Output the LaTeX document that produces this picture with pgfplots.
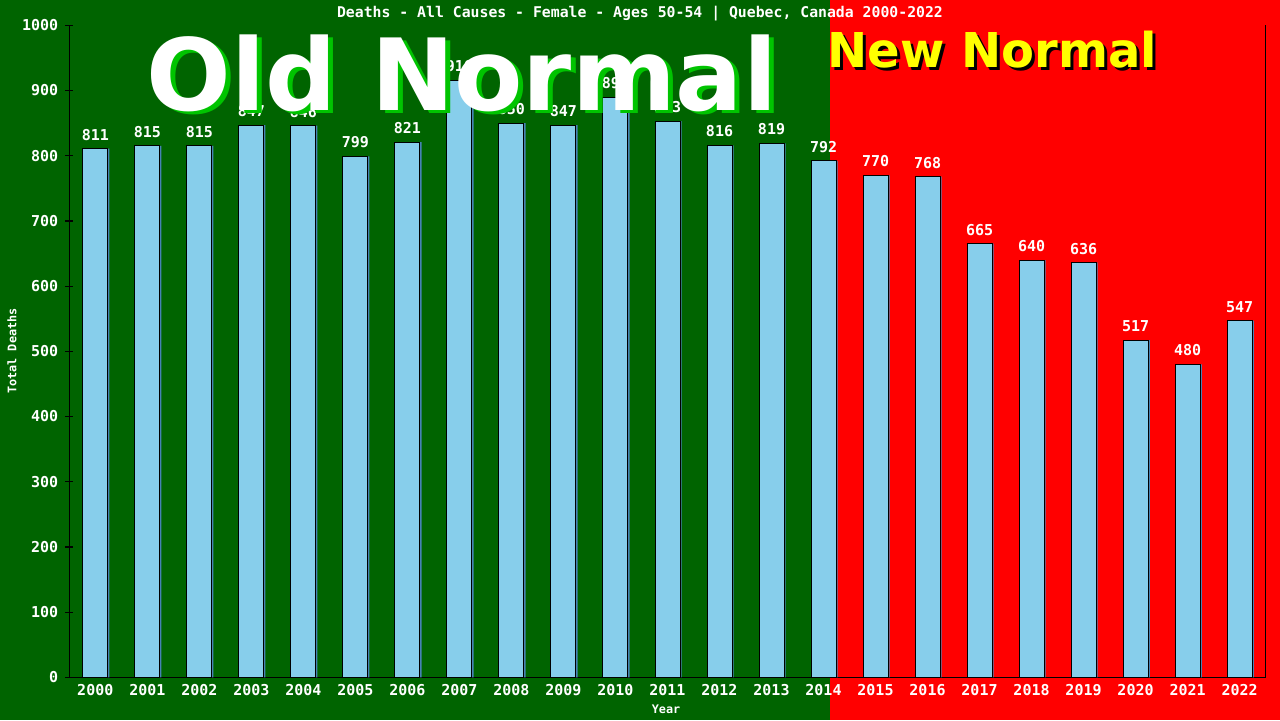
\documentclass[border=0pt]{standalone}
\usepackage{pgfplots}
\pgfplotsset{compat=1.18}
\usepackage{fontspec}
\setmainfont{DejaVu Sans Mono}
\newfontfamily\bigfont{DejaVu Sans}
\definecolor{bggreen}{HTML}{006400}
\definecolor{bgred}{HTML}{FF0000}
\definecolor{shadowgreen}{HTML}{00C400}
\definecolor{barblue}{HTML}{87CEEB}
\definecolor{barshade}{HTML}{4682B4}
\definecolor{newyellow}{HTML}{FFFF00}

\pgfplotstableread{
year deaths
2000 811
2001 815
2002 815
2003 847
2004 846
2005 799
2006 821
2007 916
2008 850
2009 847
2010 890
2011 853
2012 816
2013 819
2014 792
2015 770
2016 768
2017 665
2018 640
2019 636
2020 517
2021 480
2022 547
}\deaths

\begin{document}
\begin{tikzpicture}
% background halves
\fill[bggreen] (0,0) rectangle (415pt,360pt);
\fill[bgred] (415pt,0) rectangle (640pt,360pt);

\begin{axis}[
  at={(34.65pt,21.35pt)}, anchor=south west,
  scale only axis, width=598.2pt, height=326pt,
  xmin=1999.5, xmax=2022.5, ymin=0, ymax=1000,
  axis x line=bottom, axis y line=left,
  axis line style={-, black, line width=0.6pt},
  xtick={2000,...,2022}, ytick={0,100,...,1000},
  xtick style={draw=none},
  ytick style={black, line width=0.6pt},
  tick align=center, major tick length=4pt,
  /pgf/number format/1000 sep={},
  /pgf/number format/assume math mode=true,
  ticklabel style={text=white, font=\bfseries\fontsize{7.5}{8}\selectfont},
  xticklabel style={yshift=4pt},
  ybar, bar width=12.5pt,
  clip=false,
]
\addplot[fill=barshade, draw=none, bar shift=0.8pt] table[x=year,y=deaths]{\deaths};
\addplot[fill=barblue, draw=black, line width=0.5pt, bar shift=0pt,
  nodes near coords, every node near coord/.append style={text=white,
  font=\bfseries\fontsize{7.5}{8}\selectfont, yshift=0.5pt}]
  table[x=year,y=deaths]{\deaths};
\draw[black, line width=0.6pt] (axis cs:2022.5,0) -- (axis cs:2022.5,1000);
\end{axis}

% titles
\node[text=white, font=\bfseries\fontsize{7.4}{8}\selectfont] at (320pt,353pt)
  {Deaths - All Causes - Female - Ages 50-54 | Quebec, Canada 2000-2022};
\node[text=white, font=\bfseries\fontsize{5.9}{6}\selectfont, rotate=90] at (6pt,184.5pt) {Total Deaths};
\node[text=white, font=\bfseries\fontsize{5.9}{6}\selectfont] at (333pt,5.5pt) {Year};

% big labels
\node[anchor=base west, inner sep=0, text=shadowgreen, font=\bigfont\bfseries\fontsize{49.8}{50}\selectfont] at (75.5pt,303.5pt) {Old Normal};
\node[anchor=base west, inner sep=0, text=white, font=\bigfont\bfseries\fontsize{49.8}{50}\selectfont] at (73pt,305pt) {Old Normal};
\node[anchor=base west, inner sep=0, text=black, font=\bigfont\bfseries\fontsize{24}{24}\selectfont] at (415pt,325pt) {New Normal};
\node[anchor=base west, inner sep=0, text=newyellow, font=\bigfont\bfseries\fontsize{24}{24}\selectfont] at (413.5pt,326.5pt) {New Normal};

\pgfresetboundingbox
\useasboundingbox (0,0) rectangle (640pt,360pt);
\end{tikzpicture}
\end{document}
